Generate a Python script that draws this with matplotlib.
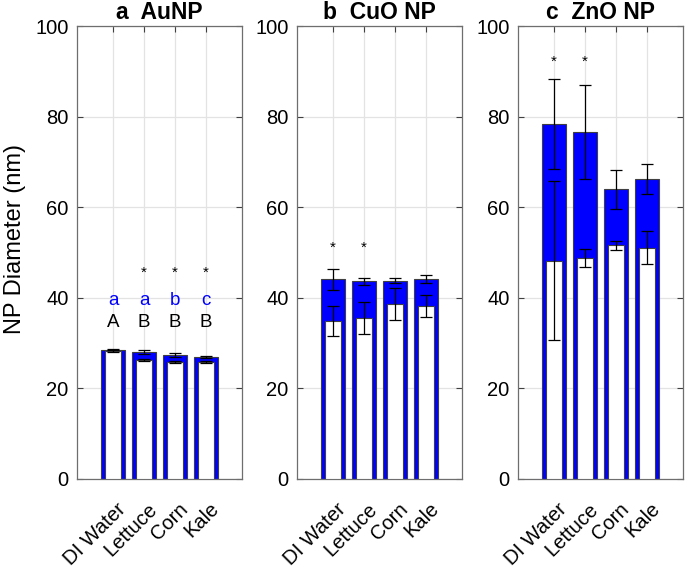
import matplotlib
matplotlib.use('Agg')
import matplotlib.pyplot as plt
from matplotlib.transforms import ScaledTranslation

plt.rcParams['font.family'] = ['Liberation Sans', 'DejaVu Sans']

categories = ['DI Water', 'Lettuce', 'Corn', 'Kale']
panel_letters = ['a', 'b', 'c']
panel_names = ['AuNP', 'CuO NP', 'ZnO NP']

# Blue (outer) bars: mean and error
au_outer = [28.4, 28.0, 27.4, 26.9]
au_outer_err = [0.3, 0.4, 0.45, 0.15]
cuo_outer = [44.1, 43.6, 43.8, 44.2]
cuo_outer_err = [2.3, 0.8, 0.6, 0.85]
zno_outer = [78.4, 76.6, 64.0, 66.2]
zno_outer_err = [10.0, 10.4, 4.3, 3.35]

# White (inner) bars: mean and error
au_inner = [28.2, 26.2, 25.9, 25.8]
au_inner_err = [0.2, 0.2, 0.2, 0.2]
cuo_inner = [34.8, 35.6, 38.6, 38.2]
cuo_inner_err = [3.3, 3.55, 3.5, 2.4]
zno_inner = [48.2, 48.7, 51.6, 51.1]
zno_inner_err = [17.6, 2.0, 1.0, 3.65]

# Significance stars (category index) and their heights
au_stars = [1, 2, 3]
au_star_y = 45.5
cuo_stars = [0, 1]
cuo_star_y = 51.0
zno_stars = [0, 1]
zno_star_y = 92.0

# Letter annotations for AuNP
au_blue_letters = ['a', 'a', 'b', 'c']
au_blue_y = 39.3
au_black_letters = ['A', 'B', 'B', 'B']
au_black_y = 34.5

outers = [au_outer, cuo_outer, zno_outer]
outer_errs = [au_outer_err, cuo_outer_err, zno_outer_err]
inners = [au_inner, cuo_inner, zno_inner]
inner_errs = [au_inner_err, cuo_inner_err, zno_inner_err]
stars = [au_stars, cuo_stars, zno_stars]
star_ys = [au_star_y, cuo_star_y, zno_star_y]

W, H = 685, 568
fig = plt.figure(figsize=(W / 100, H / 100), dpi=100)
lefts = [77, 297, 518]
ax_w = 165
ax_top, ax_bot = 26, 479

x = [1, 2, 3, 4]
edge = '#404040'
for i in range(3):
    ax = fig.add_axes([lefts[i] / W, 1 - ax_bot / H, ax_w / W, (ax_bot - ax_top) / H])
    ax.set_axisbelow(True)
    ax.grid(True, color='#e3e3e3', linewidth=0.9)
    ax.bar(x, outers[i], width=0.76, color='#0000ff', edgecolor=edge, linewidth=0.8, zorder=2)
    ax.errorbar(x, outers[i], yerr=outer_errs[i], fmt='none', ecolor='black',
                elinewidth=0.9, capsize=4.5, capthick=0.9, zorder=3)
    ax.bar(x, inners[i], width=0.52, color='white', edgecolor=edge, linewidth=0.8, zorder=4)
    ax.errorbar(x, inners[i], yerr=inner_errs[i], fmt='none', ecolor='black',
                elinewidth=0.9, capsize=4.5, capthick=0.9, zorder=5)
    for s in stars[i]:
        ax.text(x[s], star_ys[i], '*', ha='center', va='center', fontsize=11, zorder=6)
    ax.set_xlim(-0.17, 5.17)
    ax.set_ylim(0, 100)
    ax.set_yticks([0, 20, 40, 60, 80, 100])
    ax.set_xticks(x)
    ax.tick_params(direction='in', top=True, right=True, length=4, width=0.8,
                   color='#404040', labelsize=14.5, pad=6)
    ax.set_xticklabels(categories, rotation=45, ha='right', rotation_mode='anchor', fontsize=14.5)
    off = ScaledTranslation(3 / 100, -12 / 100, fig.dpi_scale_trans)
    for lab in ax.xaxis.get_majorticklabels():
        lab.set_transform(lab.get_transform() + off)
    for sp in ax.spines.values():
        sp.set_color('#6e6e6e')
        sp.set_linewidth(0.9)
    ax.set_title(panel_letters[i] + '  ' + panel_names[i], fontsize=16.5, fontweight='bold', pad=5)
    if i == 0:
        ax.set_ylabel('NP Diameter (nm)', fontsize=17)
        ax.yaxis.set_label_coords(-0.31, 0.53)
        for j in range(4):
            ax.text(x[j], au_blue_y, au_blue_letters[j], color='#0000ff', ha='center', va='center', fontsize=13.5)
            ax.text(x[j], au_black_y, au_black_letters[j], color='black', ha='center', va='center', fontsize=13.5)

fig.savefig('out.png', dpi=100)
